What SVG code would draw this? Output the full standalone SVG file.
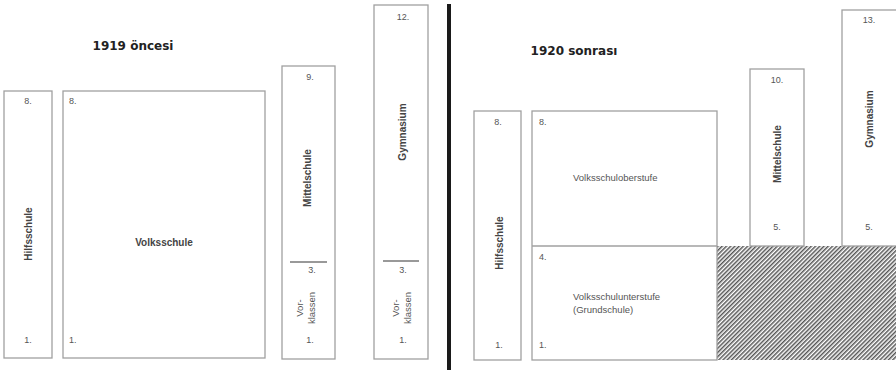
<svg xmlns="http://www.w3.org/2000/svg" width="896" height="370" viewBox="0 0 896 370">
<defs>
<style>
.box{fill:#fff;stroke:#a0a0a0;stroke-width:1.3}
.num{font-family:"Liberation Sans",Arial,sans-serif;font-size:9px;fill:#555}
.lbl{font-family:"Liberation Sans",Arial,sans-serif;font-size:10px;font-weight:bold;fill:#444}
.reg{font-family:"Liberation Sans",Arial,sans-serif;font-size:9.5px;fill:#555}
.title{font-family:"DejaVu Sans",Verdana,sans-serif;font-size:12px;font-weight:bold;fill:#222}
.div{stroke:#777;stroke-width:1.5}
</style>
<pattern id="hatch" patternUnits="userSpaceOnUse" width="3" height="3" patternTransform="rotate(45)">
<rect width="3" height="3" fill="#fff"/>
<rect width="1.5" height="3" fill="#555"/>
</pattern>
</defs>
<rect width="896" height="370" fill="#fff"/>

<g id="left-panel">
<text class="title" x="133" y="50" text-anchor="middle">1919 öncesi</text>

<g id="l-hilfsschule">
<rect class="box" x="4" y="91" width="48" height="267"/>
<text class="num" x="28" y="104" text-anchor="middle">8.</text>
<text class="lbl" transform="translate(32,234) rotate(-90)" text-anchor="middle">Hilfsschule</text>
<text class="num" x="28" y="343" text-anchor="middle">1.</text>
</g>

<g id="l-volksschule">
<rect class="box" x="63" y="91" width="202" height="267"/>
<text class="num" x="69" y="104">8.</text>
<text class="lbl" x="164" y="246" text-anchor="middle">Volksschule</text>
<text class="num" x="69" y="343">1.</text>
</g>

<g id="l-mittelschule">
<rect class="box" x="282" y="66" width="53" height="293"/>
<text class="num" x="310" y="80" text-anchor="middle">9.</text>
<text class="lbl" transform="translate(311,178) rotate(-90)" text-anchor="middle">Mittelschule</text>
<line class="div" x1="290" y1="262" x2="327" y2="262"/>
<text class="num" x="312" y="273" text-anchor="middle">3.</text>
<text class="reg" transform="translate(303,308) rotate(-90)" text-anchor="middle">Vor-</text>
<text class="reg" transform="translate(315,308) rotate(-90)" text-anchor="middle">klassen</text>
<text class="num" x="310" y="343" text-anchor="middle">1.</text>
</g>

<g id="l-gymnasium">
<rect class="box" x="374" y="5" width="54" height="354"/>
<text class="num" x="403" y="20" text-anchor="middle">12.</text>
<text class="lbl" transform="translate(406,132) rotate(-90)" text-anchor="middle">Gymnasium</text>
<line class="div" x1="383" y1="261" x2="419" y2="261"/>
<text class="num" x="403" y="273" text-anchor="middle">3.</text>
<text class="reg" transform="translate(399,308) rotate(-90)" text-anchor="middle">Vor-</text>
<text class="reg" transform="translate(411,308) rotate(-90)" text-anchor="middle">klassen</text>
<text class="num" x="403" y="343" text-anchor="middle">1.</text>
</g>
</g>

<rect id="separator" x="447" y="4" width="4" height="366" fill="#1a1a1a"/>

<g id="right-panel">
<text class="title" x="574" y="55" text-anchor="middle">1920 sonrası</text>

<rect id="hatched" x="717" y="246" width="179" height="114" fill="url(#hatch)"/>

<g id="r-hilfsschule">
<rect class="box" x="474" y="111" width="47" height="249"/>
<text class="num" x="498" y="125" text-anchor="middle">8.</text>
<text class="lbl" transform="translate(503,243) rotate(-90)" text-anchor="middle">Hilfsschule</text>
<text class="num" x="499" y="348" text-anchor="middle">1.</text>
</g>

<g id="r-volksschule">
<rect class="box" x="532" y="111" width="185" height="249"/>
<line stroke="#a0a0a0" stroke-width="1.3" x1="532" y1="246" x2="717" y2="246"/>
<text class="num" x="539" y="125">8.</text>
<text class="reg" x="573" y="181">Volksschuloberstufe</text>
<text class="num" x="539" y="260">4.</text>
<text class="reg" x="573" y="300">Volksschulunterstufe</text>
<text class="reg" x="573" y="313">(Grundschule)</text>
<text class="num" x="539" y="348">1.</text>
</g>

<g id="r-mittelschule">
<rect class="box" x="750" y="69" width="54" height="177"/>
<text class="num" x="777" y="83" text-anchor="middle">10.</text>
<text class="lbl" transform="translate(781,154) rotate(-90)" text-anchor="middle">Mittelschule</text>
<text class="num" x="777" y="230" text-anchor="middle">5.</text>
</g>

<g id="r-gymnasium">
<rect class="box" x="842" y="10" width="60" height="236"/>
<text class="num" x="869" y="23" text-anchor="middle">13.</text>
<text class="lbl" transform="translate(873,119) rotate(-90)" text-anchor="middle">Gymnasium</text>
<text class="num" x="869" y="230" text-anchor="middle">5.</text>
</g>
</g>
</svg>
